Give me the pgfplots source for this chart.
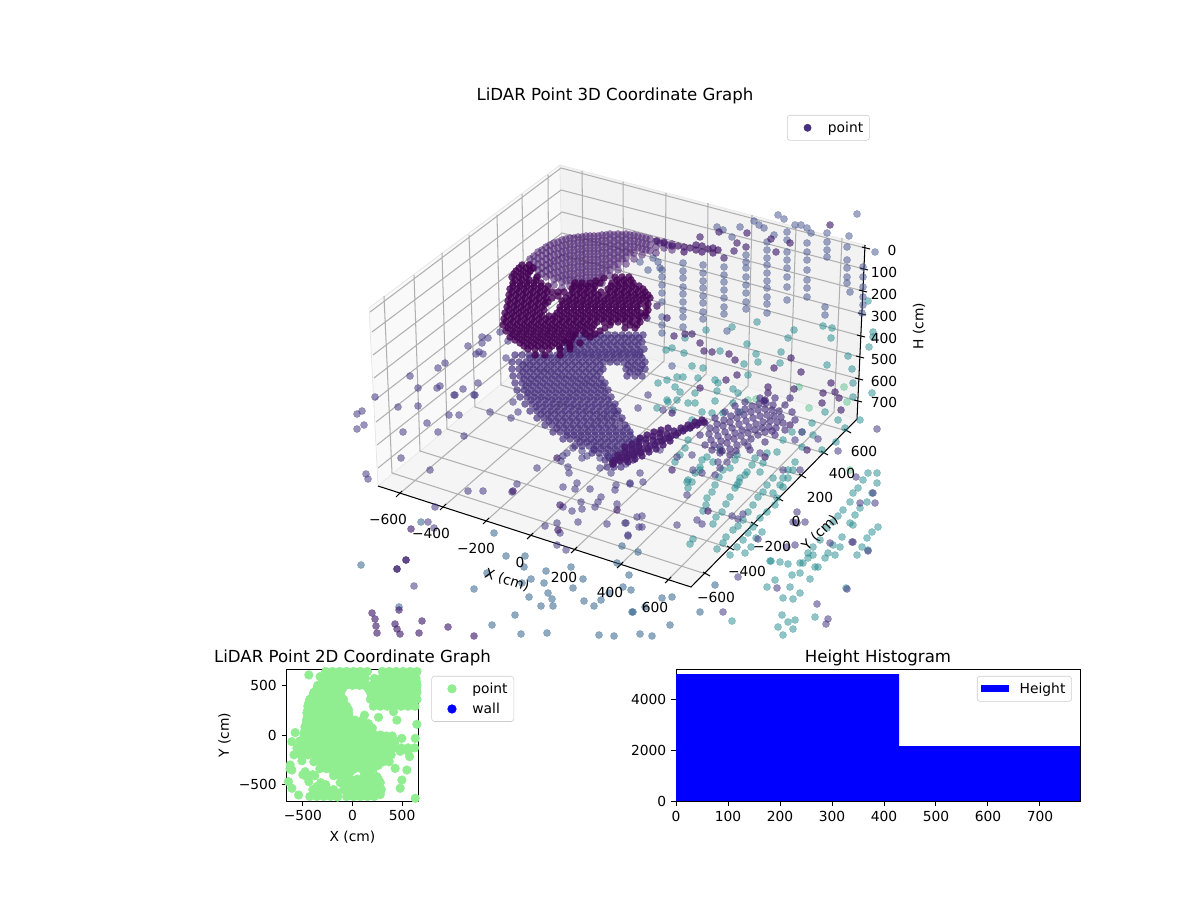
\documentclass[border=0pt]{standalone}
\usepackage{fontspec}
\setmainfont{DejaVu Sans}
\usepackage{pgfplots}
\pgfplotsset{compat=1.18}
\definecolor{paneL}{HTML}{F9F9F9}
\definecolor{paneR}{HTML}{F2F2F2}
\definecolor{paneF}{HTML}{F5F5F5}
\definecolor{gridc}{HTML}{B0B0B0}
\definecolor{vdark}{HTML}{440154}
\definecolor{vdk}{HTML}{3E1A6B}
\definecolor{varc}{HTML}{471A6E}
\definecolor{vfan}{HTML}{46307E}
\definecolor{vpur}{HTML}{463A83}
\definecolor{vwall}{HTML}{3F4F8B}
\definecolor{vblue}{HTML}{33638D}
\definecolor{vteal}{HTML}{238A8D}
\definecolor{vgreen}{HTML}{35B779}
\definecolor{lgreen}{HTML}{90EE90}
\pgfplotsset{
  pts/.style={only marks, mark=*, mark size=2.6pt, mark options={line width=.4pt, fill=#1, draw=#1}, color=#1},
  op/.style={mark options={line width=.4pt, fill opacity=#1, draw opacity=.3}},
  axline/.style={black, line width=.75pt, no marks},
  tk/.style={black, line width=.75pt, no marks},
  mpllegend/.style={legend cell align=left, draw=black!20, rounded corners=2pt,
    font=\fontsize{10}{12}\selectfont, inner xsep=2.5pt, inner ysep=2.5pt, row sep=1.5pt},
  markimg/.style={legend image code/.code={\path (0cm,0cm) (0.86cm,0cm); \draw[##1] plot coordinates {(0.42cm,0cm)};}},
}
\begin{document}
\begin{tikzpicture}
\useasboundingbox (0,0) rectangle (12in,9in);
\begin{axis}[
  at={(0in,2.64in)}, anchor=south west, scale only axis,
  width=8.78in, height=6.36in,
  xmin=0, xmax=878, ymin=0, ymax=636, y dir=reverse,
  axis lines=none, clip mode=individual, unbounded coords=jump,
  legend style={at={(axis cs:787,115)}, anchor=north west, mpllegend},
]
\addlegendimage{only marks, mark=*, mark size=2.6pt, color=vfan, markimg}
\addlegendentry{point}
% panes
\addplot[fill=paneL, draw=paneL!90!black, line width=.4pt, forget plot] coordinates {(369,308)(560,165)(563,333)(378,486)} --cycle;
\addplot[fill=paneR, draw=paneR!95!black, line width=.4pt, forget plot] coordinates {(560,165)(865,245)(857,419)(563,333)} --cycle;
\addplot[fill=paneF, draw=paneF!95!black, line width=.4pt, forget plot] coordinates {(378,486)(563,333)(857,419)(691,587)} --cycle;
% grid
\addplot[gridc, line width=.75pt, forget plot] coordinates {
(398,495)(584,337)(582,171)(nan,nan)
(442,508)(624,349)(623,182)(nan,nan)
(485,522)(664,361)(666,193)(nan,nan)
(529,537)(706,374)(708,203)(nan,nan)
(573,551)(748,386)(752,215)(nan,nan)
(619,566)(790,399)(796,227)(nan,nan)
(667,581)(834,412)(842,238)(nan,nan)
(706,574)(392,473)(384,296)(nan,nan)
(730,548)(420,451)(414,275)(nan,nan)
(754,524)(447,429)(442,253)(nan,nan)
(779,499)(475,407)(469,235)(nan,nan)
(802,476)(501,385)(497,215)(nan,nan)
(824,453)(525,365)(522,194)(nan,nan)
(847,431)(549,344)(548,175)(nan,nan)
(370,312)(561,168)(865,248)(nan,nan)
(372,332)(561,190)(864,269)(nan,nan)
(373,355)(562,212)(863,291)(nan,nan)
(374,378)(562,233)(862,314)(nan,nan)
(375,400)(562,255)(861,336)(nan,nan)
(376,422)(563,276)(860,357)(nan,nan)
(377,445)(563,298)(859,379)(nan,nan)
(378,468)(563,319)(858,401)
};
% axis lines and ticks
\addplot[axline, forget plot] coordinates {(378,486)(691,587)(857,419)(865,245)};
\addplot[tk, forget plot] coordinates {
(396,497)(402,491)(nan,nan)(440,510)(446,504)(nan,nan)(483,524)(489,518)(nan,nan)(527,539)(533,533)(nan,nan)
(571,553)(577,547)(nan,nan)(617,568)(623,562)(nan,nan)(665,583)(671,577)(nan,nan)
(703,572)(710,576)(nan,nan)(727,546)(734,550)(nan,nan)(751,522)(758,526)(nan,nan)(776,497)(783,501)(nan,nan)
(799,474)(806,478)(nan,nan)(821,451)(828,455)(nan,nan)(844,429)(851,433)(nan,nan)
(862,247)(870,249)(nan,nan)(860,268)(868,270)(nan,nan)(859,290)(867,292)(nan,nan)(858,313)(866,315)(nan,nan)
(857,335)(865,337)(nan,nan)(856,356)(864,358)(nan,nan)(855,378)(863,380)(nan,nan)(854,400)(862,402)
};
% teal floor chains
\addplot[pts=vteal, op=.5, forget plot] coordinates {
(690,544)(693,539)(703,511)(706,505)(707,498)(712,492)(715,485)(719,477)(723,470)
(713,524)(716,517)(722,512)(726,504)(730,497)(735,488)(739,482)(745,475)
(717,549)(723,543)(726,537)(733,530)(738,526)(743,520)(748,512)(753,505)(758,497)(763,492)(767,485)(773,478)
(730,555)(737,547)(743,540)(748,533)(753,527)(760,518)(767,512)(775,505)(777,498)(783,487)(788,478)(793,470)
(745,553)(751,547)(756,538)(762,532)(771,561)
(688,488)(692,482)(687,482)(695,473)(700,467)(707,457)(713,462)(720,450)(737,455)(735,460)(730,468)(755,458)(752,465)(747,472)(740,478)(737,485)
(767,453)(777,452)(763,463)(760,472)(795,462)(788,470)(783,478)(780,485)(773,493)(783,440)(792,432)(812,423)(802,432)(822,450)(813,435)(802,447)
(690,428)(688,440)(685,448)(680,455)(675,462)(692,420)(702,460)(700,470)(688,480)(667,400)(673,410)
(877,473)(868,473)(863,480)(858,488)(853,493)(850,502)(843,510)(838,516)(833,522)(827,528)(820,540)(813,547)(808,553)(803,563)
(877,483)(872,493)(867,502)(860,508)(855,515)(850,523)(842,537)(833,545)(828,553)(818,567)(810,579)(800,593)(793,599)
(878,527)(872,532)(867,538)(862,547)(857,555)(868,550)(853,525)(840,547)(835,555)(825,558)(815,567)(800,573)(790,587)(783,598)
(770,561)(780,562)(788,564)(800,563)(808,558)(813,555)(775,580)(767,587)(792,575)(846,588)
(782,615)(788,622)(795,620)(778,627)(793,629)(783,635)(815,617)(732,621)
(677,377)(683,377)(698,378)(715,380)(718,383)(733,389)(738,393)(748,375)(667,380)(658,383)(675,387)(680,392)(695,393)(717,391)(695,403)(715,401)(733,403)(668,402)(677,400)(688,403)(657,408)(702,412)(712,413)(723,413)(740,412)
(706,330)(685,338)(747,344)(788,338)(794,330)(831,338)(823,326)(832,328)(672,348)(684,353)(666,350)(720,351)(756,354)(781,352)(758,362)(780,363)(744,364)(703,368)(692,366)(827,365)(848,356)(852,369)(853,383)(872,393)(853,397)
(757,322)(732,327)(868,301)(873,332)(873,337)(869,347)
(860,420)(838,420)(825,412)(836,442)(845,428)
};
\addplot[pts=vgreen, op=.4, forget plot] coordinates {(844,387)(799,387)(847,402)(809,408)(748,400)(756,399)(850,470)};
% blue-ish lower points
\addplot[pts=vblue, op=.55, forget plot] coordinates {
(361,565)(421,522)(494,533)(506,556)(525,556)(524,567)(487,573)(474,589)(522,583)(531,579)(546,571)(544,583)(548,593)(552,599)(529,597)(541,606)(553,606)(571,567)(583,579)(573,588)(584,601)(601,600)(594,606)(609,593)(623,587)(631,590)(633,612)
(492,625)(515,615)(521,634)(547,633)(599,635)(614,636)(399,607)
(632,612)(645,607)(652,636)(662,598)(672,597)(629,575)(617,563)(622,546)(638,552)
(640,634)(670,625)(700,612)(715,585)
};
% upper wall columns
\addplot[pts=vwall, op=.5, forget plot] coordinates {
(662,270)(662,277)(662,285)(662,293)(662,302)(662,317)(662,325)(662,333)
(683,263)(683,271)(683,278)(683,287)(683,294)(683,302)(683,310)(683,317)(683,327)
(703,265)(703,273)(703,281)(703,288)(703,296)(703,303)(703,312)(703,319)
(724,267)(724,275)(724,282)(724,290)(724,298)(724,307)(724,314)
(746,255)(746,262)(746,268)(746,277)(746,285)(746,293)(746,302)(746,309)
(767,242)(767,250)(767,258)(767,265)(767,273)(767,281)(767,288)(767,297)(767,304)(767,313)
(787,232)(787,240)(787,252)(787,260)(787,268)(787,277)(787,287)(787,300)
(807,243)(807,252)(807,260)(807,270)(807,280)(807,288)(807,297)
(827,233)(827,242)(827,250)(827,257)(825,307)(825,315)
(847,247)(847,260)(847,268)(847,277)(847,283)(850,292)
(863,267)(863,277)(863,287)(863,297)(863,305)(862,313)
(778,215)(784,219)(795,225)(801,225)(807,228)(811,233)(754,221)(759,225)(764,228)(717,227)(723,230)(732,237)(740,227)(774,235)(857,214)(849,236)(875,252)
(658,262)(660,268)(640,262)(648,270)(653,258)
(727,331)(672,366)
};
% sparse purple points
\addplot[pts=vpur, op=.55, forget plot] coordinates {
(362,411)(357,414)(364,425)(357,429)(375,397)(398,407)(418,406)(455,395)(474,395)(449,415)(459,415)(490,412)(513,402)(518,412)(511,418)(427,423)(403,432)(438,432)(464,436)(401,458)(366,474)(368,479)(430,470)(468,491)(483,491)(517,484)(512,492)(435,507)(428,522)(434,528)
(537,468)(561,461)(567,453)(563,456)(573,448)(582,451)(594,450)(582,458)(587,456)(600,458)(609,458)(568,467)(569,473)(600,468)(626,464)(611,473)(563,487)(577,483)(575,489)(590,489)(616,485)(615,490)(630,484)(581,502)(563,507)(572,511)(582,509)(595,507)(598,502)(601,497)(617,504)(545,526)(557,523)(560,533)(578,522)(607,524)(626,523)(639,527)(628,536)(557,545)(566,550)(637,517)
(482,337)(488,338)(482,343)(468,346)(476,354)(479,352)(483,354)(445,363)(438,368)(410,376)(478,383)(418,388)(437,388)(440,386)(463,389)(454,395)(475,395)(506,358)(508,341)(500,332)
(638,408)(648,395)(663,410)(660,450)(640,473)(643,482)(630,483)(687,495)(677,457)(692,455)(693,470)(702,473)(715,475)(720,468)(727,462)(718,462)(760,453)(783,470)(800,470)(795,440)(802,432)(818,439)(642,516)(642,527)(625,523)(628,535)(677,525)(697,520)(702,524)(732,516)(738,519)(743,514)
(797,512)(793,522)(797,523)(805,522)(830,543)(852,542)(868,551)(873,493)(875,503)(860,503)(853,542)(795,545)(787,547)(758,539)(877,429)(838,451)(856,477)(777,588)(847,589)(817,604)(828,619)(826,624)(738,577)(723,612)
(406,560)(397,569)(414,586)
};
% darker individual points
\addplot[pts=vdk, op=.62, forget plot] coordinates {
(830,225)(747,233)(719,232)(737,243)(734,251)(746,247)(771,239)(790,243)(724,258)(776,252)(700,237)
(674,336)(685,334)(692,334)(700,343)(704,351)(712,352)(729,354)(735,360)(774,368)(791,358)(801,372)(737,375)(726,380)(700,388)(794,389)(831,383)(835,392)(823,393)(839,398)(822,403)(841,410)(768,387)(768,393)(764,401)(657,306)(647,318)(667,318)
(513,491)(411,529)(557,458)(560,505)(617,510)(558,530)(672,413)(672,470)(722,451)(765,457)(807,450)(790,425)(765,400)(708,511)
(372,613)(375,619)(376,626)(377,633)(395,624)(397,629)(400,634)(399,610)(422,621)(448,627)(419,633)(474,636)(406,560)(397,569)
};
% cluster on the right
\addplot[pts=vfan, op=.62, forget plot] coordinates {
(710,428)(717,424)(724,420)(731,416)(738,412)(745,409)(752,406)(759,404)(766,403)(773,405)
(709,434)(716,430)(723,426)(730,422)(737,418)(744,415)(751,412)(758,410)(765,409)(772,410)(779,411)
(711,440)(718,436)(725,432)(732,428)(739,424)(746,421)(753,418)(760,416)(767,415)(774,416)(781,417)
(714,445)(721,441)(728,437)(735,433)(742,430)(749,427)(756,424)(763,422)(770,421)(777,422)(783,423)
(720,447)(727,443)(734,439)(741,436)(748,433)(755,430)(762,428)(769,427)(776,428)
(730,449)(737,445)(744,442)(751,439)(758,435)(765,432)(772,431)
(720,453)(736,451)(748,446)
(700,435)(705,423)(785,405)(792,412)(795,420)(790,398)(775,398)(760,398)(745,402)(735,406)(725,412)(715,418)(705,445)(712,450)(730,455)(750,450)(765,442)(775,435)(785,430)
};
% fan
\addplot[pts=vfan, op=.68, forget plot] coordinates {
(515,355)(522,355)(529,355)(536,355)(543,355)(550,355)(557,355)(564,355)(571,355)(578,355)(585,355)(592,355)(599,355)(606,355)(613,355)(620,355)(627,355)(634,355)(640,355)
(512,362)(519,362)(526,362)(533,362)(540,362)(547,362)(554,362)(561,362)(568,362)(575,362)(582,362)(589,362)(596,362)(603,362)(610,362)(617,362)(624,362)(631,362)(638,362)(645,362)
(512,369)(519,369)(526,369)(533,369)(540,369)(547,369)(554,369)(561,369)(568,369)(575,369)(582,369)(589,369)(596,369)(603,369)(626,369)(633,369)(640,369)(645,369)
(513,376)(520,376)(527,376)(534,376)(541,376)(548,376)(555,376)(562,376)(569,376)(576,376)(583,376)(590,376)(597,376)(627,376)(635,376)(642,376)
(515,383)(522,383)(529,383)(536,383)(543,383)(550,383)(557,383)(564,383)(571,383)(578,383)(585,383)(592,383)(599,383)(605,383)
(517,390)(524,390)(531,390)(538,390)(545,390)(552,390)(559,390)(566,390)(573,390)(580,390)(587,390)(594,390)(601,390)(608,390)
(520,397)(527,397)(534,397)(541,397)(548,397)(555,397)(562,397)(569,397)(576,397)(583,397)(590,397)(597,397)(604,397)(611,397)
(525,404)(532,404)(539,404)(546,404)(553,404)(560,404)(567,404)(574,404)(581,404)(588,404)(595,404)(602,404)(609,404)(615,404)
(530,411)(537,411)(544,411)(551,411)(558,411)(565,411)(572,411)(579,411)(586,411)(593,411)(600,411)(607,411)(614,411)(618,411)
(537,418)(544,418)(551,418)(558,418)(565,418)(572,418)(579,418)(586,418)(593,418)(600,418)(607,418)(614,418)(622,418)
(545,425)(552,425)(559,425)(566,425)(573,425)(580,425)(587,425)(594,425)(601,425)(608,425)(615,425)(625,425)
(553,432)(560,432)(567,432)(574,432)(581,432)(588,432)(595,432)(602,432)(609,432)(616,432)(623,432)(630,432)
(563,439)(570,439)(577,439)(584,439)(591,439)(598,439)(605,439)(612,439)(619,439)(626,439)(633,439)(640,439)
(575,446)(582,446)(589,446)(596,446)(603,446)(610,446)(617,446)(624,446)(631,446)(638,446)
(592,453)(599,453)(606,453)(613,453)(620,453)(627,453)(634,453)(640,453)
(605,460)(612,460)(619,460)(626,460)(633,460)
(607,467)(614,467)(621,467)(613,462)(613,464)
(573,335)(580,335)(587,335)(594,335)(601,335)(608,335)(615,335)(622,335)(629,335)(636,335)(643,335)
(565,342)(572,342)(579,342)(586,342)(593,342)(600,342)(607,342)(614,342)(621,342)(628,342)(635,342)(642,342)
(560,349)(567,349)(574,349)(581,349)(588,349)(595,349)(602,349)(609,349)(616,349)(623,349)(630,349)(637,349)(644,349)
(530,358)(537,358)(544,358)(551,358)(558,358)(565,358)(572,358)(579,358)(586,358)(593,358)(600,358)(607,358)(614,358)(621,358)(628,358)(635,358)(642,358)
(523,365)(530,365)(537,365)(544,365)(551,365)(558,365)(565,365)(572,365)(579,365)(586,365)(593,365)(600,365)(628,365)(635,365)(642,365)
(523,372)(530,372)(537,372)(544,372)(551,372)(558,372)(565,372)(572,372)(579,372)(586,372)(593,372)(600,372)(630,372)(638,372)
(524,379)(531,379)(538,379)(545,379)(552,379)(559,379)(566,379)(573,379)(580,379)(587,379)(594,379)(601,379)
(526,386)(533,386)(540,386)(547,386)(554,386)(561,386)(568,386)(575,386)(582,386)(589,386)(596,386)(603,386)
(528,393)(535,393)(542,393)(549,393)(556,393)(563,393)(570,393)(577,393)(584,393)(591,393)(598,393)(605,393)
(531,400)(538,400)(545,400)(552,400)(559,400)(566,400)(573,400)(580,400)(587,400)(594,400)(601,400)(608,400)
(536,407)(543,407)(550,407)(557,407)(564,407)(571,407)(578,407)(585,407)(592,407)(599,407)(606,407)(613,407)
(541,414)(548,414)(555,414)(562,414)(569,414)(576,414)(583,414)(590,414)(597,414)(604,414)(611,414)(617,414)
(549,421)(556,421)(563,421)(570,421)(577,421)(584,421)(591,421)(598,421)(605,421)(612,421)(620,421)
(557,428)(564,428)(571,428)(578,428)(585,428)(592,428)(599,428)(606,428)(613,428)(620,428)(627,428)
(567,435)(574,435)(581,435)(588,435)(595,435)(602,435)(609,435)(616,435)(623,435)(630,435)
(580,442)(587,442)(594,442)(601,442)(608,442)(615,442)(622,442)(629,442)(636,442)
(594,449)(601,449)(608,449)(615,449)(622,449)(629,449)(636,449)
(608,456)(615,456)(622,456)(629,456)
(576,338)(583,338)(590,338)(597,338)(604,338)(611,338)(618,338)(625,338)(632,338)(639,338)
(568,345)(575,345)(582,345)(589,345)(596,345)(603,345)(610,345)(617,345)(624,345)(631,345)(638,345)
(563,352)(570,352)(577,352)(584,352)(591,352)(598,352)(605,352)(612,352)(619,352)(626,352)(633,352)(640,352)
};
% stripe
\addplot[pts=varc, op=.85, forget plot] coordinates {
(618,455)(625,452)(632,449)(639,446)(646,443)(653,440)(660,437)(667,434)(674,431)(681,428)(688,425)(695,422)(702,420)
(620,461)(627,458)(634,455)(641,452)(648,449)(655,445)(662,441)(669,438)(676,435)(683,431)(690,428)(697,425)(704,422)
(625,447)(632,444)(639,442)(646,439)(653,436)(660,433)
(622,458)(629,455)(636,452)(643,449)(650,446)(657,442)(664,439)(671,436)(678,433)(685,429)(692,426)(699,423)
(613,462)(613,464)(615,460)
(628,462)(635,459)(642,456)(649,452)(656,449)(663,445)(670,441)
(640,438)(647,435)(654,432)(661,430)(668,428)
};
% arc
\addplot[pts=varc, op=.52, forget plot] coordinates {
(530,259)(530,265)(530,271)
(538,252)(538,258)(538,264)(538,270)(538,276)
(546,247)(546,253)(546,259)(546,265)(546,271)(546,277)
(554,243)(554,249)(554,255)(554,261)(554,267)(554,273)(554,279)(554,285)
(562,240)(562,246)(562,252)(562,258)(562,264)(562,270)(562,276)(562,282)(562,288)
(570,238)(570,244)(570,250)(570,256)(570,262)(570,268)(570,274)(570,280)(570,286)
(578,237)(578,243)(578,249)(578,255)(578,261)(578,267)(578,273)(578,279)(578,285)
(586,236)(586,242)(586,248)(586,254)(586,260)(586,266)(586,272)(586,278)(586,284)
(594,236)(594,242)(594,248)(594,254)(594,260)(594,266)(594,272)(594,278)(594,284)
(602,235)(602,241)(602,247)(602,253)(602,259)(602,265)(602,271)(602,277)(602,283)
(610,234)(610,240)(610,246)(610,252)(610,258)(610,264)(610,270)(610,276)
(618,234)(618,240)(618,246)(618,252)(618,258)(618,264)(618,270)
(626,234)(626,240)(626,246)(626,252)(626,258)(626,264)
(634,235)(634,241)(634,247)(634,253)(634,259)
(642,237)(642,243)(642,249)(642,255)
(650,239)(650,245)(650,251)(656,241)(656,247)(656,253)
(664,242)(664,248)(672,244)(672,250)
(534,256)(534,262)(534,268)(542,250)(542,256)(542,262)(542,268)(542,274)
(550,245)(550,251)(550,257)(550,263)(550,269)(550,275)
(558,242)(558,248)(558,254)(558,260)(558,266)(558,272)(558,278)
(566,239)(566,245)(566,251)(566,257)(566,263)(566,269)(566,275)(566,281)
(574,238)(574,244)(574,250)(574,256)(574,262)(574,268)(574,274)(574,280)
(582,237)(582,243)(582,249)(582,255)(582,261)(582,267)(582,273)(582,279)
(590,236)(590,242)(590,248)(590,254)(590,260)(590,266)(590,272)(590,278)
(598,236)(598,242)(598,248)(598,254)(598,260)(598,266)(598,272)(598,278)
(606,235)(606,241)(606,247)(606,253)(606,259)(606,265)(606,271)
(614,235)(614,241)(614,247)(614,253)(614,259)(614,265)
(622,235)(622,241)(622,247)(622,253)(622,259)
(630,235)(630,241)(630,247)(630,253)
(638,236)(638,242)(638,248)(646,238)(646,244)(646,250)(660,243)(668,245)
};
\addplot[pts=varc, op=.7, forget plot] coordinates {
(678,246)(684,247)(684,252)(690,248)(696,250)(696,245)(702,246)(702,252)(708,249)(713,248)(713,253)(718,250)(672,246)(664,243)(657,241)
};
% dark blob
\addplot[pts=vdark, op=.78, forget plot] coordinates {
(522,265)(529,265)(516,271)(523,271)(530,271)
(512,277)(519,277)(526,277)(537,277)(615,277)(622,277)(629,277)
(513,283)(520,283)(527,283)(534,283)(541,283)(612,283)(619,283)(626,283)(633,283)
(510,289)(517,289)(524,289)(531,289)(538,289)(545,289)(572,289)(579,289)(586,289)(593,289)(608,289)(615,289)(622,289)(629,289)(636,289)(643,289)
(509,295)(516,295)(523,295)(530,295)(537,295)(544,295)(570,295)(577,295)(584,295)(591,295)(598,295)(607,295)(614,295)(621,295)(628,295)(635,295)(642,295)(648,295)
(508,301)(515,301)(522,301)(529,301)(536,301)(543,301)(562,301)(569,301)(576,301)(583,301)(590,301)(597,301)(604,301)(611,301)(618,301)(625,301)(632,301)(639,301)(646,301)
(507,307)(514,307)(521,307)(528,307)(535,307)(542,307)(560,307)(567,307)(574,307)(581,307)(588,307)(595,307)(602,307)(609,307)(616,307)(623,307)(630,307)(637,307)(646,307)
(505,313)(512,313)(519,313)(526,313)(533,313)(540,313)(557,313)(564,313)(571,313)(578,313)(585,313)(592,313)(599,313)(606,313)(613,313)(620,313)(627,313)(634,313)(641,313)(646,313)
(504,319)(511,319)(518,319)(525,319)(532,319)(539,319)(546,319)(553,319)(560,319)(567,319)(574,319)(581,319)(588,319)(595,319)(602,319)(609,319)(616,319)(623,319)(630,319)(638,319)
(503,325)(510,325)(517,325)(524,325)(531,325)(538,325)(545,325)(552,325)(559,325)(566,325)(573,325)(580,325)(587,325)(594,325)(610,325)(630,325)(637,325)
(506,331)(513,331)(520,331)(527,331)(534,331)(541,331)(548,331)(555,331)(562,331)(569,331)(576,331)(583,331)(590,331)(600,331)
(510,337)(517,337)(524,337)(531,337)(538,337)(545,337)(552,337)(559,337)(566,337)(573,337)(590,337)
(520,343)(527,343)(534,343)(541,343)(548,343)(555,343)(562,343)(569,343)(580,343)
(528,349)(535,349)(542,349)(549,349)(560,349)(570,349)(535,355)(545,355)(560,355)
(519,268)(526,268)(533,268)(514,274)(521,274)(528,274)
(515,280)(522,280)(529,280)(536,280)(617,280)(624,280)(631,280)
(513,286)(520,286)(527,286)(534,286)(541,286)(548,286)(574,286)(581,286)(588,286)(595,286)(611,286)(618,286)(625,286)(632,286)(639,286)
(512,292)(519,292)(526,292)(533,292)(540,292)(547,292)(573,292)(580,292)(587,292)(594,292)(601,292)(610,292)(617,292)(624,292)(631,292)(638,292)(645,292)
(511,298)(518,298)(525,298)(532,298)(539,298)(546,298)(566,298)(573,298)(580,298)(587,298)(594,298)(601,298)(608,298)(615,298)(622,298)(629,298)(636,298)(643,298)(650,298)
(510,304)(517,304)(524,304)(531,304)(538,304)(545,304)(563,304)(570,304)(577,304)(584,304)(591,304)(598,304)(605,304)(612,304)(619,304)(626,304)(633,304)(640,304)(648,304)
(509,310)(516,310)(523,310)(530,310)(537,310)(544,310)(560,310)(567,310)(574,310)(581,310)(588,310)(595,310)(602,310)(609,310)(616,310)(623,310)(630,310)(637,310)(648,310)
(507,316)(514,316)(521,316)(528,316)(535,316)(542,316)(549,316)(555,316)(562,316)(569,316)(576,316)(583,316)(590,316)(597,316)(604,316)(611,316)(618,316)(625,316)(632,316)(639,316)(645,316)
(506,322)(513,322)(520,322)(527,322)(534,322)(541,322)(548,322)(555,322)(562,322)(569,322)(576,322)(583,322)(590,322)(597,322)(604,322)(611,322)(618,322)(625,322)(632,322)(640,322)
(508,328)(515,328)(522,328)(529,328)(536,328)(543,328)(550,328)(557,328)(564,328)(571,328)(578,328)(585,328)(592,328)(605,328)(625,328)(635,328)
(512,334)(519,334)(526,334)(533,334)(540,334)(547,334)(554,334)(561,334)(568,334)(575,334)(585,334)(595,334)
(515,340)(522,340)(529,340)(536,340)(543,340)(550,340)(557,340)(564,340)(571,340)
(524,346)(531,346)(538,346)(545,346)(552,346)(559,346)(570,346)
(552,292)(558,292)(564,292)(552,298)(558,296)(548,302)(600,283)(604,278)(596,281)(590,283)(582,283)(575,283)
};
% texts
\foreach \x/\y/\t in {388/519/−600,431/533/−400,476/548/−200,520/562/0,564/577/200,610/592/400,655/607/600,
  716/597/−600,747/571/−400,772/546/−200,796/521/0,820/497/200,842/473/400,864/451/600,
  892/250/0,884/272/100,884/294/200,884/316/300,884/338/400,884/359/500,884/381/600,884/402/700}
  {\edef\temp{\noexpand\node[font=\noexpand\fontsize{10}{12}\noexpand\selectfont, inner sep=0pt] at (axis cs:\x,\y) {\t};}\temp}
\node[font=\fontsize{10}{12}\selectfont, rotate=-18, inner sep=0pt] at (axis cs:507,580) {X (cm)};
\node[font=\fontsize{10}{12}\selectfont, rotate=45, inner sep=0pt] at (axis cs:820,533) {Y (cm)};
\node[font=\fontsize{10}{12}\selectfont, rotate=90, inner sep=0pt] at (axis cs:919,326) {H (cm)};
\node[font=\fontsize{12}{14}\selectfont, inner sep=0pt] at (axis cs:615,96) {LiDAR Point 3D Coordinate Graph};
\end{axis}
% 2D axis
\begin{axis}[
  at={(2.865in,0.99in)}, anchor=south west, scale only axis,
  width=1.32in, height=1.32in,
  xmin=-665, xmax=665, ymin=-665, ymax=665,
  xtick={-500,0,500}, ytick={-500,0,500},
  xticklabels={−500,0,500}, yticklabels={−500,0,500},
  tick align=outside, major tick length=3.5pt, tick pos=lower,
  every tick/.style={black, line width=.7pt}, axis line style={line width=.7pt},
  ticklabel style={font=\fontsize{10}{12}\selectfont},
  title={LiDAR Point 2D Coordinate Graph}, title style={font=\fontsize{12}{14}\selectfont, yshift=-7pt},
  xlabel={X (cm)}, ylabel={Y (cm)},
  label style={font=\fontsize{10}{12}\selectfont},
  xlabel style={yshift=-0.5pt}, ylabel style={yshift=-1pt},
  legend style={at={(axis description cs:1.098,0.947)}, anchor=north west, mpllegend},
]
\addplot[only marks, mark=*, mark size=3.1pt, color=lgreen, markimg] coordinates {
(-270,640)(-200,640)(-130,640)(-60,640)(10,640)(80,640)(150,640)(300,640)(370,640)(440,640)(510,640)(580,640)(650,640)(-440,605)(-326,588)
(-270,570)(-200,570)(-130,570)(-60,570)(10,570)(80,570)(130,570)(220,570)(290,570)(360,570)(430,570)(500,570)(570,570)(640,570)
(-350,500)(-280,500)(-210,500)(-140,500)(-70,500)(0,500)(70,500)(120,500)(190,500)(260,500)(330,500)(400,500)(470,500)(540,500)(610,500)(650,500)
(-390,430)(-320,430)(-250,430)(-180,430)(-120,430)(180,430)(250,430)(320,430)(390,430)(460,430)(530,430)(600,430)(650,430)
(-430,360)(-360,360)(-290,360)(-220,360)(-150,360)(-90,360)(180,360)(250,360)(320,360)(390,360)(460,360)(530,360)(600,360)(650,360)
(-450,290)(-380,290)(-310,290)(-240,290)(-170,290)(-100,290)(-60,290)(210,290)(280,290)(350,290)(420,290)(490,290)(560,290)(630,290)
(-460,220)(-390,220)(-320,220)(-250,220)(-180,220)(-110,220)(-40,220)(121,200)(262,178)(413,235)(447,150)(648,108)
(-465,150)(-395,150)(-325,150)(-255,150)(-185,150)(-115,150)(-45,150)(25,150)(100,150)
(-480,80)(-410,80)(-340,80)(-270,80)(-200,80)(-130,80)(-60,80)(10,80)(80,80)(150,80)(200,70)
(-490,10)(-420,10)(-350,10)(-280,10)(-210,10)(-140,10)(-70,10)(0,10)(70,10)(140,10)(210,10)(280,0)(340,-10)(400,-10)(-578,24)(497,-34)(632,-34)(-611,-67)
(-530,-60)(-460,-60)(-390,-60)(-320,-60)(-250,-60)(-180,-60)(-110,-60)(-40,-60)(30,-60)(100,-60)(170,-60)(240,-60)(310,-60)(380,-60)(430,-60)
(-560,-130)(-490,-130)(-420,-130)(-350,-130)(-280,-130)(-210,-130)(-140,-130)(-70,-130)(0,-130)(70,-130)(140,-130)(210,-130)(280,-130)(350,-130)(420,-130)(490,-130)(560,-130)(625,-130)
(-590,-200)(-520,-200)(-450,-200)(-380,-200)(-310,-200)(-240,-200)(-170,-200)(-100,-200)(-30,-200)(40,-200)(110,-200)(180,-200)(250,-200)(320,-200)(390,-200)(575,-218)
(-510,-260)(-390,-270)(-320,-270)(-250,-270)(-180,-270)(-110,-270)(-40,-270)(30,-270)(100,-270)(170,-270)(240,-270)(310,-270)(370,-270)(-628,-302)
(-330,-340)(-260,-340)(-190,-340)(-120,-340)(-50,-340)(20,-340)(90,-340)(160,-340)(210,-340)(430,-336)(548,-353)(-611,-353)(-477,-370)(-630,-340)
(-460,-420)(-380,-410)(-190,-410)(-120,-410)(-50,-410)(-20,-370)(120,-400)(180,-410)(245,-420)(497,-454)(-500,-400)
(-124,-480)(-54,-480)(16,-480)(86,-480)(156,-480)(226,-480)(280,-480)(-645,-470)(-360,-520)
(-400,-550)(-330,-550)(-260,-550)(-190,-550)(-90,-550)(-20,-550)(50,-550)(120,-550)(190,-550)(260,-550)(290,-550)(480,-537)(-611,-537)
(-430,-620)(-360,-620)(-290,-620)(-220,-620)(-150,-625)(-60,-620)(10,-620)(80,-620)(150,-620)(220,-620)(280,-600)(-544,-605)(632,-638)
(-320,-480)(-270,-500)
(-235,605)(-165,605)(-95,605)(-25,605)(45,605)(115,605)(335,605)(405,605)(475,605)(545,605)(615,605)
(-305,535)(-235,535)(-165,535)(-95,535)(-25,535)(45,535)(105,535)(225,535)(295,535)(365,535)(435,535)(505,535)(575,535)(645,535)
(-360,465)(-290,465)(-220,465)(-150,465)(-100,465)(160,465)(225,465)(295,465)(365,465)(435,465)(505,465)(575,465)(645,465)
(-400,395)(-330,395)(-260,395)(-190,395)(-120,395)(215,395)(285,395)(355,395)(425,395)(495,395)(565,395)(635,395)
(-440,325)(-370,325)(-300,325)(-230,325)(-160,325)(-90,325)(240,325)(310,325)(380,325)(450,325)(520,325)(590,325)
(-450,255)(-380,255)(-310,255)(-240,255)(-170,255)(-100,255)(-40,255)
(-455,185)(-385,185)(-315,185)(-245,185)(-175,185)(-105,185)(-35,185)
(-465,115)(-395,115)(-325,115)(-255,115)(-185,115)(-115,115)(-45,115)(25,115)(100,115)(160,115)
(-480,45)(-410,45)(-340,45)(-270,45)(-200,45)(-130,45)(-60,45)(10,45)(80,45)(150,45)
(-480,-25)(-410,-25)(-340,-25)(-270,-25)(-200,-25)(-130,-25)(-60,-25)(10,-25)(80,-25)(150,-25)(220,-25)(290,-25)(360,-25)
(-500,-95)(-430,-95)(-360,-95)(-290,-95)(-220,-95)(-150,-95)(-80,-95)(-10,-95)(60,-95)(130,-95)(200,-95)(270,-95)(340,-95)(410,-95)
(-530,-165)(-460,-165)(-390,-165)(-320,-165)(-250,-165)(-180,-165)(-110,-165)(-40,-165)(30,-165)(100,-165)(170,-165)(240,-165)(310,-165)(380,-165)(480,-165)(560,-165)
(-360,-235)(-290,-235)(-220,-235)(-150,-235)(-80,-235)(-10,-235)(60,-235)(130,-235)(200,-235)(270,-235)(340,-235)
(-300,-305)(-230,-305)(-160,-305)(-90,-305)(-20,-305)(50,-305)(120,-305)(190,-305)(260,-305)
(-190,-375)(-100,-375)(-90,-440)(-20,-445)(50,-445)(120,-445)(190,-445)(260,-445)
(-400,-400)(-440,-470)(-30,-515)(40,-515)(110,-515)(180,-515)(250,-515)(-360,-585)(-290,-585)(-220,-585)(-150,-585)(-20,-585)(50,-585)(120,-585)(190,-585)(250,-585)
};
\addlegendentry{point}
\addlegendimage{only marks, mark=*, mark size=3.1pt, color=blue, markimg}
\addlegendentry{wall}
\end{axis}
% histogram
\begin{axis}[
  at={(6.76in,0.99in)}, anchor=south west, scale only axis,
  width=4.04in, height=1.32in,
  xmin=0, xmax=777, ymin=0, ymax=5180,
  xtick={0,100,200,300,400,500,600,700}, ytick={0,2000,4000},
  scaled y ticks=false,
  tick align=outside, major tick length=3.5pt, tick pos=lower,
  every tick/.style={black, line width=.7pt}, axis line style={line width=.7pt},
  /pgf/number format/assume math mode=true,
  /pgf/number format/1000 sep={},
  ticklabel style={font=\fontsize{10}{12}\selectfont},
  title={Height Histogram}, title style={font=\fontsize{12}{14}\selectfont, yshift=-7pt},
  legend style={at={(axis description cs:0.98,0.947)}, anchor=north east, mpllegend},
  legend image code/.code={\fill[blue, sharp corners] (0cm,-0.09cm) rectangle (0.71cm,0.09cm);\path (0.92cm,0cm);},
]
\addplot[ybar interval, fill=blue, draw=none] coordinates {(0,4980)(429,2157)(777,2157)};
\addlegendentry{Height}
\end{axis}
\end{tikzpicture}
\end{document}
